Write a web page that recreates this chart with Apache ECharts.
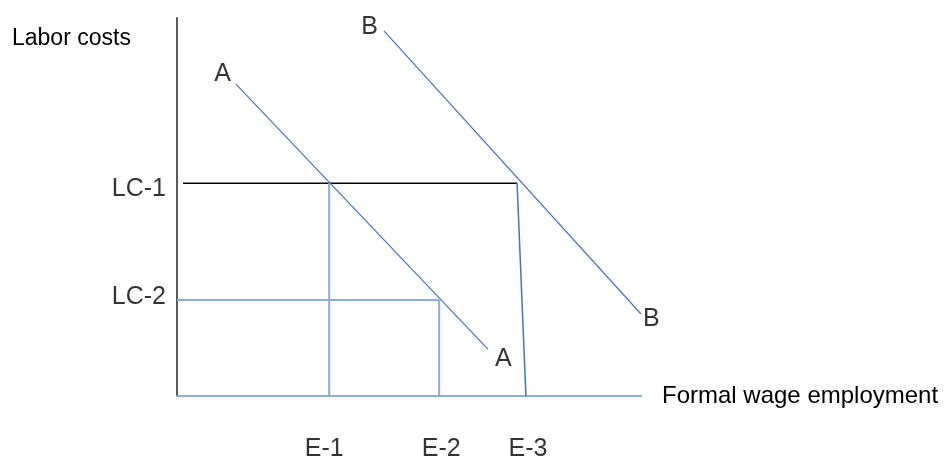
<!DOCTYPE html>
<html>
<head>
<meta charset="utf-8">
<script src="https://cdn.jsdelivr.net/npm/echarts@6/dist/echarts.min.js"></script>
<style>
  html, body { margin: 0; padding: 0; background: #fff; }
  #echart { width: 947px; height: 461px; }
</style>
</head>
<body>
<div id="echart"></div>
<script>
// employment levels on the x axis (0..100 scale)
var empNames = ['E-1', 'E-2', 'E-3'];
var empVals = [32.8, 56.5, 75.2];
// labour cost levels on the y axis (0..100 scale)
var costNames = ['LC-1', 'LC-2'];
var costVals = [56.3, 25.4];
// where the LC-1 line stops before dropping to E-3
var lc1Start = 1.3;
var lc1End = 73.3;
// the two demand curves, start and end points
var curveNames = ['A', 'B'];
var curveA = [[12.7, 82.5], [67.0, 12.4]];
var curveB = [[44.6, 96.6], [100, 21.7]];

var lightBlue = '#8faadc';
var darkBlue = '#4472c4';
var font = 'Liberation Sans, Arial, sans-serif';

function seg(data, color, width) {
    return {
        type: 'line',
        data: data,
        showSymbol: false,
        symbol: 'none',
        lineStyle: { color: color, width: width },
        silent: true,
        z: 2
    };
}

// labels, placed at data points
var labels = [];
empNames.forEach(function (n, i) {
    labels.push({ value: [empVals[i], 0], name: n,
        label: { position: 'bottom', distance: 41, offset: [i === 0 ? -5 : 2, 0] } });
});
costNames.forEach(function (n, i) {
    labels.push({ value: [0, costVals[i]], name: n,
        label: { position: 'left', distance: 11, offset: [0, i === 0 ? 6 : -3] } });
});
[curveA, curveB].forEach(function (c, i) {
    var n = curveNames[i];
    labels.push({ value: c[0], name: n,
        label: { position: 'left', distance: i === 0 ? 5 : 6, offset: [0, i === 0 ? -10 : -4] } });
    labels.push({ value: c[1], name: n,
        label: { position: 'right', distance: i === 0 ? 7 : 2, offset: [0, i === 0 ? 10 : 5] } });
});

let myChart = echarts.init(document.getElementById('echart'));
var option = {
    animation: false,
    backgroundColor: '#fff',
    title: {
        text: 'Labor costs',
        left: 7,
        top: 22,
        textStyle: { fontFamily: font, fontSize: 23, fontWeight: 'normal', color: '#000' }
    },
    grid: { left: 177, right: 306, top: 18, bottom: 65 },
    xAxis: {
        type: 'value', min: 0, max: 100,
        name: 'Formal wage employment',
        nameLocation: 'end',
        nameGap: 21,
        nameTextStyle: { fontFamily: font, fontSize: 24, color: '#000', padding: [0, 0, 6, 0] },
        axisLine: { show: true, lineStyle: { color: lightBlue, width: 2 } },
        axisTick: { show: false },
        axisLabel: { show: false },
        splitLine: { show: false }
    },
    yAxis: {
        type: 'value', min: 0, max: 100,
        axisLine: { show: true, lineStyle: { color: '#595959', width: 2 } },
        axisTick: { show: false },
        axisLabel: { show: false },
        splitLine: { show: false }
    },
    series: [
        seg([[lc1Start, costVals[0]], [lc1End, costVals[0]]], '#000', 1.5),
        seg([[lc1End, costVals[0]], [empVals[2], 0]], darkBlue, 1.5),
        seg([[empVals[0], costVals[0]], [empVals[0], 0]], lightBlue, 2),
        seg([[0, costVals[1]], [empVals[1], costVals[1]]], lightBlue, 2),
        seg([[empVals[1], costVals[1]], [empVals[1], 0]], lightBlue, 2),
        seg(curveA, darkBlue, 1.2),
        seg(curveB, darkBlue, 1.2),
        {
            type: 'scatter',
            data: labels,
            symbolSize: 0.1,
            clip: false,
            silent: true,
            itemStyle: { color: 'rgba(0,0,0,0)' },
            label: {
                show: true,
                formatter: function (p) { return p.name; },
                fontFamily: font,
                fontSize: 25,
                color: '#000'
            }
        }
    ]
};
myChart.setOption(option);
</script>
</body>
</html>
